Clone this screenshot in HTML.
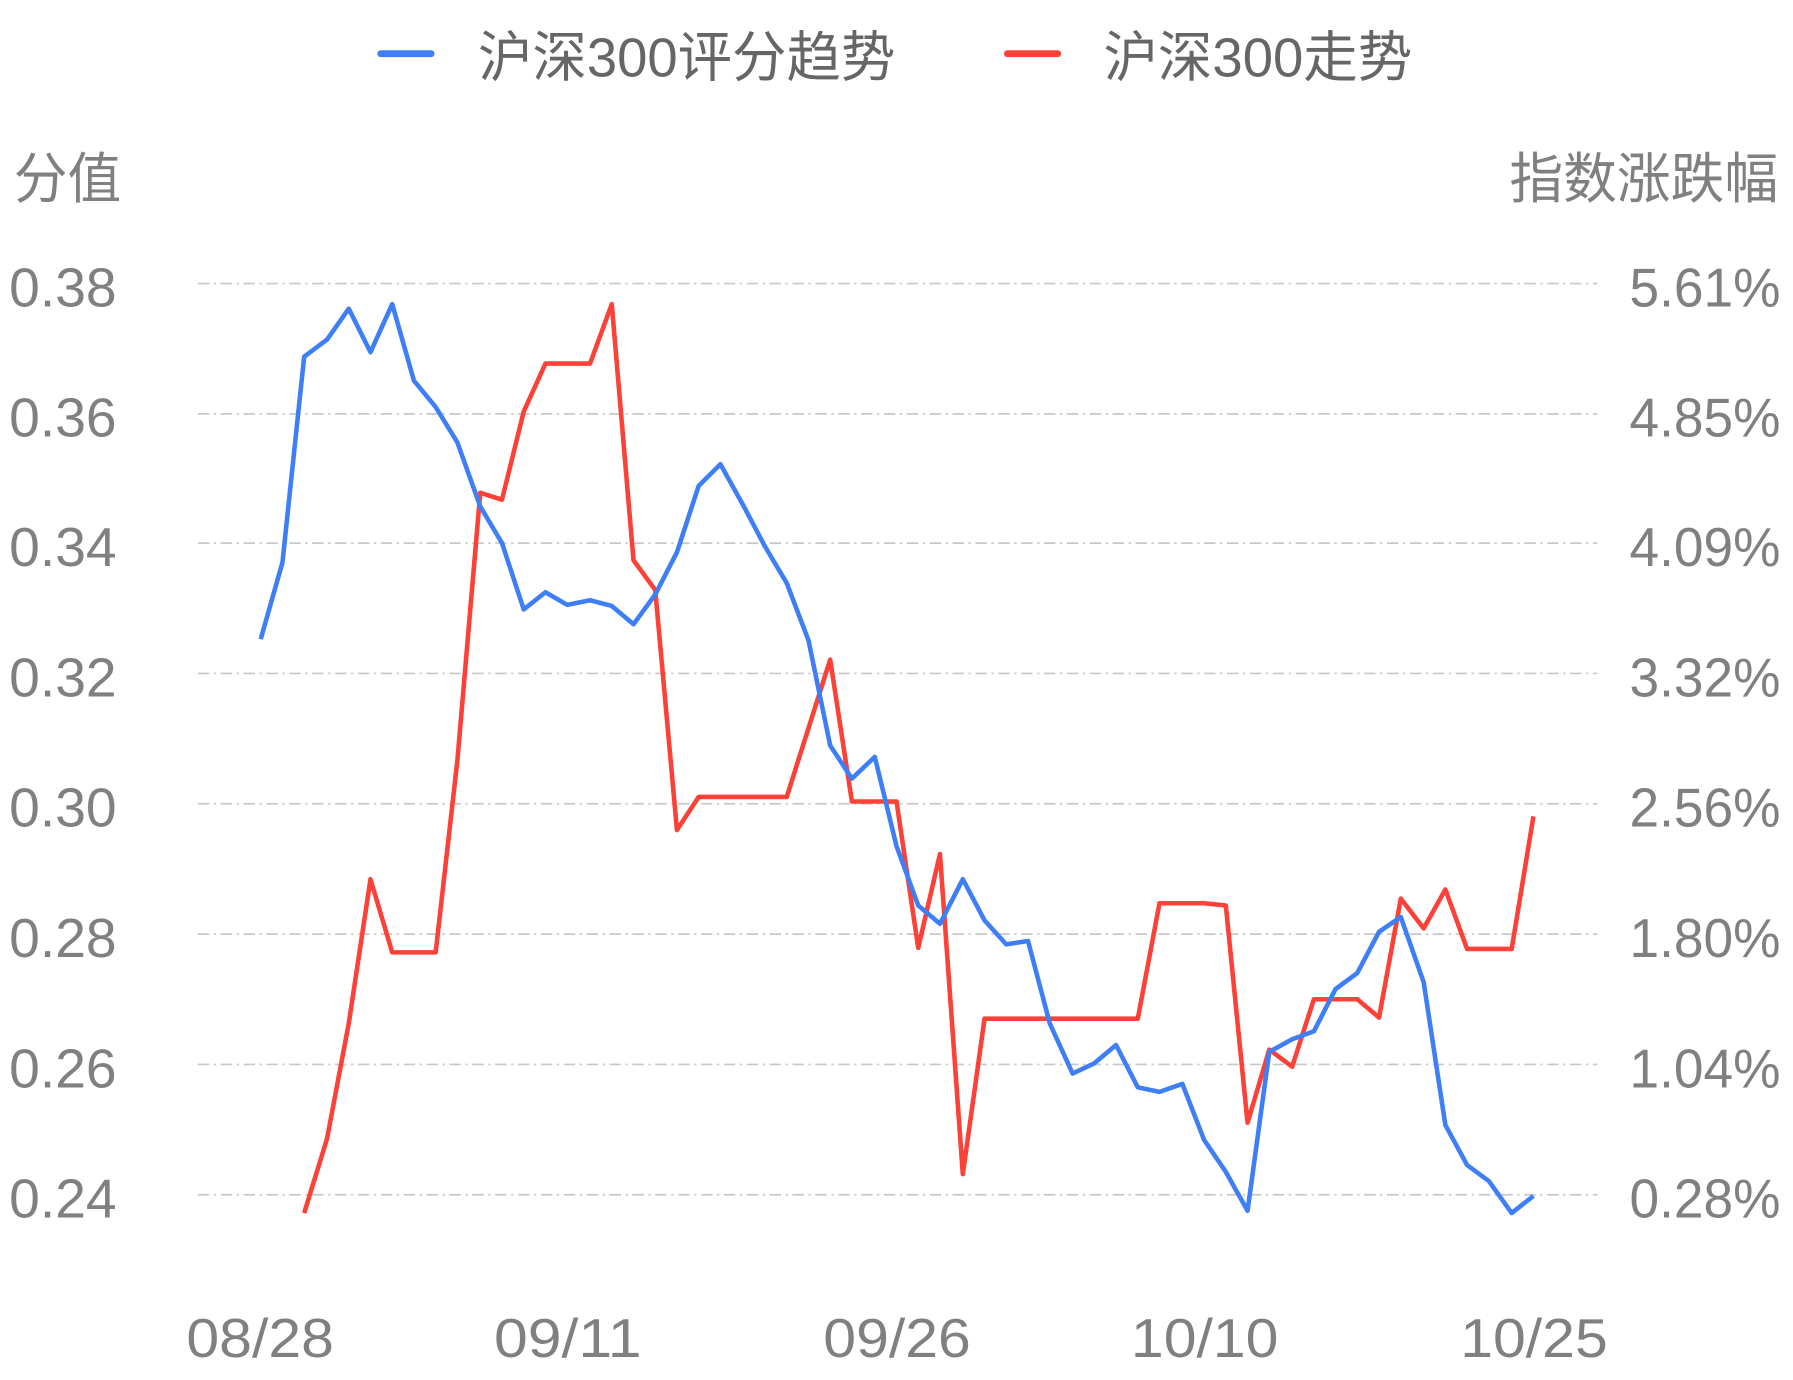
<!DOCTYPE html>
<html><head><meta charset="utf-8"><style>html,body{margin:0;padding:0;background:#fff;}svg{display:block}</style></head>
<body>
<svg width="1793" height="1380" viewBox="0 0 1568 1207" preserveAspectRatio="none" xmlns="http://www.w3.org/2000/svg" font-family="Liberation Sans, Noto Sans CJK SC, sans-serif">
<g stroke="#c8c8c8" stroke-width="1.5" stroke-dasharray="10,4,2,4">
<line x1="173" y1="248" x2="1397" y2="248"/><line x1="173" y1="362" x2="1397" y2="362"/><line x1="173" y1="475" x2="1397" y2="475"/><line x1="173" y1="589" x2="1397" y2="589"/><line x1="173" y1="703" x2="1397" y2="703"/><line x1="173" y1="817" x2="1397" y2="817"/><line x1="173" y1="931" x2="1397" y2="931"/><line x1="173" y1="1045" x2="1397" y2="1045"/>
</g>
<g fill="#808080" font-size="48">
<text x="8" y="268" textLength="94" lengthAdjust="spacingAndGlyphs">0.38</text>
<text x="8" y="382" textLength="94" lengthAdjust="spacingAndGlyphs">0.36</text>
<text x="8" y="495" textLength="94" lengthAdjust="spacingAndGlyphs">0.34</text>
<text x="8" y="609" textLength="94" lengthAdjust="spacingAndGlyphs">0.32</text>
<text x="8" y="723" textLength="94" lengthAdjust="spacingAndGlyphs">0.30</text>
<text x="8" y="837" textLength="94" lengthAdjust="spacingAndGlyphs">0.28</text>
<text x="8" y="951" textLength="94" lengthAdjust="spacingAndGlyphs">0.26</text>
<text x="8" y="1065" textLength="94" lengthAdjust="spacingAndGlyphs">0.24</text>
<text x="1425" y="268" textLength="132" lengthAdjust="spacingAndGlyphs">5.61%</text>
<text x="1425" y="382" textLength="132" lengthAdjust="spacingAndGlyphs">4.85%</text>
<text x="1425" y="495" textLength="132" lengthAdjust="spacingAndGlyphs">4.09%</text>
<text x="1425" y="609" textLength="132" lengthAdjust="spacingAndGlyphs">3.32%</text>
<text x="1425" y="723" textLength="132" lengthAdjust="spacingAndGlyphs">2.56%</text>
<text x="1425" y="837" textLength="132" lengthAdjust="spacingAndGlyphs">1.80%</text>
<text x="1425" y="951" textLength="132" lengthAdjust="spacingAndGlyphs">1.04%</text>
<text x="1425" y="1065" textLength="132" lengthAdjust="spacingAndGlyphs">0.28%</text>
<text x="163" y="1187" textLength="129" lengthAdjust="spacingAndGlyphs">08/28</text>
<text x="432" y="1187" textLength="129" lengthAdjust="spacingAndGlyphs">09/11</text>
<text x="720" y="1187" textLength="129" lengthAdjust="spacingAndGlyphs">09/26</text>
<text x="989" y="1187" textLength="129" lengthAdjust="spacingAndGlyphs">10/10</text>
<text x="1277" y="1187" textLength="129" lengthAdjust="spacingAndGlyphs">10/25</text>
<text x="12" y="173" textLength="94" lengthAdjust="spacingAndGlyphs">分值</text>
<text x="1320" y="173" textLength="235" lengthAdjust="spacingAndGlyphs">指数涨跌幅</text>
</g>
<g fill="#666" font-size="48">
<text x="418" y="67" textLength="365" lengthAdjust="spacingAndGlyphs">沪深300评分趋势</text>
<text x="965" y="67" textLength="270" lengthAdjust="spacingAndGlyphs">沪深300走势</text>
</g>
<line x1="333" y1="47" x2="377" y2="47" stroke="#3e7ef7" stroke-width="6" stroke-linecap="round"/>
<line x1="881" y1="47" x2="925" y2="47" stroke="#fb4138" stroke-width="6" stroke-linecap="round"/>
<polyline fill="none" stroke="#fb4138" stroke-width="4" stroke-linejoin="round" points="266,1061 286,996 305,895 324,769 343,833 362,833 381,833 400,665 420,431 439,437 458,360 477,318 496,318 516,318 535,266 554,490 573,516 592,726 611,697 630,697 650,697 669,697 688,697 707,637 726,577 745,701 765,701 784,701 803,829 822,747 842,1027 861,891 880,891 995,891 1014,790 1034,790 1053,790 1072,792 1091,982 1110,918 1130,933 1149,874 1168,874 1187,874 1206,890 1225,786 1245,812 1264,778 1283,830 1302,830 1322,830 1341,714"/>
<polyline fill="none" stroke="#3e7ef7" stroke-width="4" stroke-linejoin="round" points="228,559 247,492 266,312 286,297 305,270 324,308 343,266 362,333 381,356 400,387 420,443 439,475 458,533 477,518 496,529 516,525 535,530 554,546 573,520 592,483 611,425 630,406 650,442 669,478 688,510 707,560 726,652 745,681 765,662 784,740 803,792 822,808 842,769 861,805 880,826 899,823 918,895 938,939 957,930 976,914 995,951 1014,955 1034,948 1053,997 1072,1025 1091,1059 1110,920 1130,909 1149,902 1168,865 1187,851 1206,815 1225,802 1245,859 1264,984 1283,1019 1302,1033 1322,1061 1341,1046"/>
</svg>
</body></html>
